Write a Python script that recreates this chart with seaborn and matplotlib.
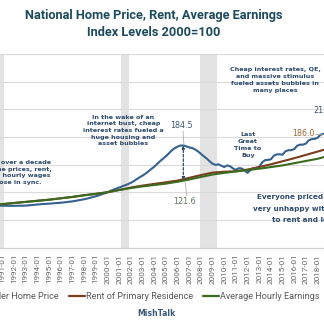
import numpy as np
import pandas as pd
import matplotlib
matplotlib.use("Agg")
import matplotlib.pyplot as plt
import matplotlib.dates as mdates
import seaborn as sns

W, H = 324, 327

# ---------------- data (index, 2000 = 100) ----------------
# Case-Shiller home price, quarterly from 1990-01
home_price = [
    77.0, 77.0, 76.5, 76.0,
    75.5, 75.5, 75.5, 75.3,
    75.3, 75.5, 75.6, 75.6,
    75.8, 76.3, 76.8, 77.2,
    77.8, 78.3, 78.7, 79.0,
    79.3, 79.7, 80.2, 80.6,
    81.0, 81.6, 82.2, 82.8,
    83.5, 84.3, 85.3, 86.3,
    87.3, 88.5, 89.8, 91.2,
    92.6, 94.3, 96.2, 98.0,
    100.0, 102.3, 104.5, 106.5,
    108.5, 110.5, 112.5, 114.5,
    117.0, 120.0, 123.5, 127.0,
    130.0, 133.5, 137.5, 142.0,
    146.0, 151.0, 156.0, 160.5,
    165.0, 170.0, 175.5, 179.5,
    182.5, 184.5, 184.5, 183.0,
    181.0, 180.0, 177.5, 174.0,
    169.5, 165.0, 161.0, 156.0,
    151.5, 149.5, 150.5, 148.0,
    145.5, 148.5, 147.0, 143.0,
    140.5, 143.5, 143.0, 139.5,
    135.0, 140.0, 143.5, 143.5,
    146.0, 154.0, 158.0, 158.5,
    159.5, 166.0, 168.5, 168.5,
    168.0, 174.0, 176.0, 176.0,
    178.0, 184.0, 186.0, 186.0,
    188.0, 194.0, 196.0, 196.5,
    198.5, 204.0, 205.5, 205.0,
    207.0, 212.0, 213.5, 213.5,
]
hp_dates = pd.date_range("1990-01-01", periods=len(home_price), freq="QS")

# Rent of primary residence and average hourly earnings, January values
years = list(range(1990, 2021))
rent = [75.5, 78.5, 80.5, 82.5, 84.5, 86.5, 89.0, 91.5, 94.5, 97.0,
        100.0, 104.0, 108.5, 112.0, 115.0, 118.0, 121.0, 126.0, 131.0, 135.5,
        137.0, 138.0, 141.0, 145.5, 150.5, 156.0, 161.5, 167.5, 173.5, 179.5, 185.5]
earnings = [76.0, 78.5, 80.5, 82.5, 84.5, 86.5, 89.0, 91.5, 94.5, 97.0,
            100.0, 104.0, 107.5, 110.5, 113.0, 115.5, 119.0, 123.0, 127.5, 132.0,
            135.0, 137.5, 140.0, 142.5, 145.5, 148.5, 152.5, 156.5, 160.5, 166.0, 171.5]
yr_dates = pd.to_datetime([f"{y}-01-01" for y in years])

recessions = [("1990-07-01", "1991-03-01"), ("2001-03-01", "2001-11-01"),
              ("2007-12-01", "2009-06-01")]

series_names = ["Case-Shiller Home Price", "Rent of Primary Residence",
                "Average Hourly Earnings"]
colors = ["#35618F", "#7A3E1D", "#3B6B1E"]

# ---------------- figure ----------------
sns.set_style("white")
fig = plt.figure(figsize=(W / 100, H / 100), dpi=100)

def fx(px):
    return px / W

def fy(py):
    return 1 - py / H

# axes placement (chart is cropped in the reference)
x1991, ppy = 2.5, 11.67
left_px = x1991 - ppy
right_px = x1991 + 34 * ppy
bot_px, top_px = 247.5, 54.0
ax = fig.add_axes([fx(left_px), fy(bot_px), (right_px - left_px) / W,
                   (bot_px - top_px) / H])

for s, e in recessions:
    ax.axvspan(pd.Timestamp(s), pd.Timestamp(e), color="#E3E3E3", lw=0, zorder=0)

sns.lineplot(x=hp_dates, y=home_price, ax=ax, color=colors[0], lw=1.5, zorder=3)
sns.lineplot(x=yr_dates, y=rent, ax=ax, color=colors[1], lw=1.5, zorder=3)
sns.lineplot(x=yr_dates, y=earnings, ax=ax, color=colors[2], lw=1.5, zorder=4)

ax.set_xlim(pd.Timestamp("1990-01-01"), pd.Timestamp("2025-01-01"))
ax.set_ylim(0, 350)
ax.set_yticks(np.arange(0, 351, 50))
ax.yaxis.grid(True, color="#DADADA", lw=0.8)
ax.set_axisbelow(True)
ax.set_yticklabels([])
ax.tick_params(axis="y", length=0)
ax.xaxis.set_major_locator(mdates.YearLocator(1, month=1, day=1))
ax.xaxis.set_major_formatter(mdates.DateFormatter("%Y-%m"))
ax.tick_params(axis="x", length=2.5, width=0.6, color="#BFBFBF", pad=2,
               labelsize=5.9, labelcolor="#666666", labelrotation=90)
for lab in ax.get_xticklabels():
    lab.set_fontfamily("Roboto")
for sp in ["top", "left", "right"]:
    ax.spines[sp].set_visible(False)
ax.spines["bottom"].set_color("#D0D0D0")
ax.spines["bottom"].set_linewidth(0.8)
ax.set_xlabel("")
ax.set_ylabel("")

# ---------------- annotations ----------------
navy = "#2E4A6E"
ann = dict(fontsize=4.6, fontweight="bold", color=navy, family="DejaVu Sans",
           ha="center", va="center", linespacing=1.42)
fig.text(fx(19), fy(172.5), "For over a decade\nhome prices, rent,\nand hourly wages\nrose in sync.", **ann)
fig.text(fx(123.5), fy(130.5), "In the wake of an\ninternet bust, cheap\ninterest rates fueled a\nhuge housing and\nasset bubbles", **ann)
fig.text(fx(248), fy(145), "Last\nGreat\nTime to\nBuy", **ann)
fig.text(fx(275), fy(80), "Cheap interest rates, QE,\nand massive stimulus\nfueled assets bubbles in\nmany places", **ann)
ev = dict(ann, fontsize=5.2, ha="left")
fig.text(fx(257), fy(197.3), "Everyone priced out", **ev)
fig.text(fx(252.7), fy(208.8), "very unhappy with having", **ev)
fig.text(fx(272), fy(220), "to rent and lost hope", **ev)

peak = pd.Timestamp("2006-07-01")
ax.annotate("", xy=(peak, 184.5), xytext=(peak, 121.6),
            arrowprops=dict(arrowstyle="<|-|>", ls=(0, (2, 1.5)), color=navy,
                            lw=0.9, mutation_scale=4, shrinkA=0, shrinkB=0))
fig.text(fx(181), fy(126), "184.5", fontsize=5.8, color="#3E5673", ha="center", va="center")
fig.text(fx(184.5), fy(201.5), "121.6", fontsize=5.8, color="#5C7A5C", ha="center", va="center")
fig.add_artist(plt.Line2D([fx(183), fx(184)], [fy(131), fy(145)], color="#A0A0A0", lw=0.5))
fig.add_artist(plt.Line2D([fx(185), fx(187)], [fy(182), fy(196)], color="#A0A0A0", lw=0.5))
fig.text(fx(303), fy(133.3), "186.0", fontsize=5.8, color="#9C6A3C", ha="center", va="center")
fig.add_artist(plt.Line2D([fx(315), fx(330)], [fy(134), fy(134)], color="#A0A0A0", lw=0.5))
fig.text(fx(313), fy(110), "212.1", fontsize=5.8, color="#3E5673", ha="left", va="center")

# ---------------- title, legend, footer ----------------
fig.text(fx(154), fy(15), "National Home Price, Rent, Average Earnings",
         fontsize=9.2, fontweight="bold", color="#1D4B5E", family="Roboto",
         ha="center", va="center")
fig.text(fx(154), fy(33), "Index Levels 2000=100",
         fontsize=9.2, fontweight="bold", color="#1D4B5E", family="Roboto",
         ha="center", va="center")

handles = [plt.Line2D([], [], color=c, lw=1.6) for c in colors]
fig.legend(handles, series_names, loc="center", bbox_to_anchor=(fx(132), fy(296.7)),
           ncol=3, frameon=False, handlelength=1.8, handletextpad=0.1,
           columnspacing=1.05, prop=dict(family="Roboto", size=6.6),
           labelcolor="#595959", borderaxespad=0, borderpad=0)

fig.text(fx(156.5), fy(313), "MishTalk", fontsize=5.6, fontweight="bold",
         color="#3A5A7A", ha="center", va="center")

fig.savefig("out.png", dpi=100)
